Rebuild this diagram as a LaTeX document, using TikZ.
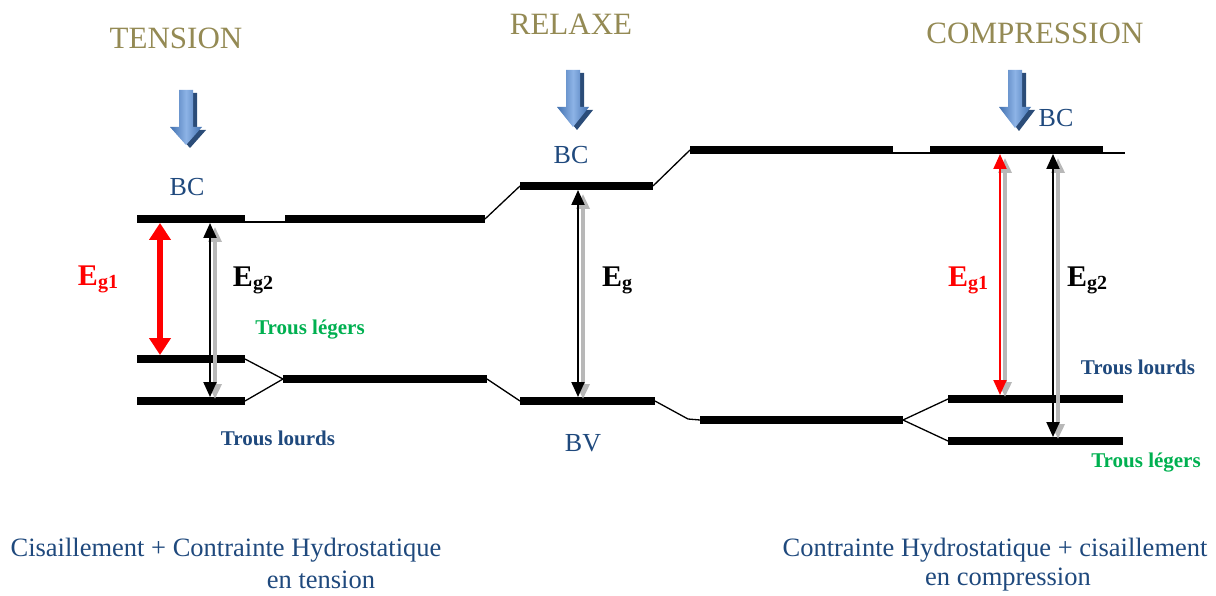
\documentclass[tikz,border=0pt]{standalone}
\usepackage{fontspec}
\setmainfont{Liberation Serif}
\usetikzlibrary{arrows.meta}
\definecolor{olivet}{HTML}{948A54}
\definecolor{dblue}{HTML}{1F497D}
\definecolor{tgreen}{HTML}{00B050}
\definecolor{arrlight}{HTML}{8DB3E6}
\definecolor{arrdark}{HTML}{4271B0}
\definecolor{arrshadow}{HTML}{2B4C78}
\newcommand\myblockarrow[5]{% name, cx, top, headstart, tip
  \fill[arrshadow] (#2-7+4,#3+3) -- (#2+7+4,#3+3) -- (#2+7+4,#4+3) -- (#2+16+4,#4+3) -- (#2+4,#5+3) -- (#2-16+4,#4+3) -- (#2-7+4,#4+3) -- cycle;
  \shade[left color=arrdark, right color=arrdark, middle color=arrlight] (#2-7,#3) -- (#2+7,#3) -- (#2+7,#4) -- (#2+16,#4) -- (#2,#5) -- (#2-16,#4) -- (#2-7,#4) -- cycle;
  \coordinate (#1) at (#2,#5);}
\newcommand\myeg[3]{{\fontsize{30}{32}\selectfont\bfseries #1}{\fontsize{20}{22}\selectfont\bfseries\raisebox{-3pt}{#2}}}
\begin{document}
\begin{tikzpicture}[x=1pt,y=-1pt,
  bar/.style={line width=8pt},
  link/.style={line width=1.3pt},
  titlelab/.style={text=olivet, font=\fontsize{31}{36}\selectfont, inner sep=0pt},
  bandlab/.style={text=dblue, font=\fontsize{26}{30}\selectfont, inner sep=0pt},
  botlab/.style={text=dblue, font=\fontsize{26.5}{30}\selectfont, inner sep=0pt},
  lourds/.style={text=dblue, font=\fontsize{21}{24}\selectfont\bfseries, inner sep=0pt},
  legers/.style={text=tgreen, font=\fontsize{21}{24}\selectfont\bfseries, inner sep=0pt},
  eglab/.style={inner sep=0pt},
  redbig/.style={red, line width=6pt, {Triangle[width=21pt,length=17pt]}-{Triangle[width=21pt,length=17pt]}},
  redthin/.style={red, line width=2pt, {Triangle[width=13pt,length=15pt]}-{Triangle[width=13pt,length=15pt]}},
  blackarr/.style={black, line width=2pt, {Triangle[width=13pt,length=15pt]}-{Triangle[width=13pt,length=15pt]}},
  shadowarr/.style={black!28, line width=3.5pt, {Triangle[width=13pt,length=15pt]}-{Triangle[width=13pt,length=15pt]}},
]
\useasboundingbox (0,0) rectangle (1216,596);

% ---------- titles ----------
\node[titlelab] (ttension) at (176,38) {TENSION};
\node[titlelab] (trelaxe) at (571,24) {RELAXE};
\node[titlelab] (tcomp) at (1035,33) {COMPRESSION};

% ---------- block arrows ----------
\myblockarrow{ba1}{186}{90}{127}{145}
\myblockarrow{ba2}{573}{70}{107}{127}
\myblockarrow{ba3}{1015}{70}{107}{128}

% ---------- coordinates of bands ----------
\coordinate (t1a) at (137,219); \coordinate (t1b) at (245,219);
\coordinate (t2a) at (285,219); \coordinate (t2b) at (485,219);
\coordinate (tla) at (137,359); \coordinate (tlb) at (245,359);
\coordinate (tha) at (137,401); \coordinate (thb) at (245,401);
\coordinate (tma) at (283,379); \coordinate (tmb) at (487,379);
\coordinate (rca) at (520,186); \coordinate (rcb) at (653,186);
\coordinate (rva) at (520,401); \coordinate (rvb) at (655,401);
\coordinate (c1a) at (690,150); \coordinate (c1b) at (893,150);
\coordinate (c2a) at (930,150); \coordinate (c2b) at (1103,150);
\coordinate (cma) at (700,420); \coordinate (cmb) at (903,420);
\coordinate (cha) at (948,399); \coordinate (chb) at (1123,399);
\coordinate (cla) at (948,441); \coordinate (clb) at (1123,441);
\coordinate (k1) at (688,419);

% ---------- thin links ----------
\draw[link] (137,222) -- (285,222);
\draw[link] (690,153) -- (1125,153);
\draw[link] (t2b) -- (rca);
\draw[link] (rcb) -- (c1a);
\draw[link] (tlb) -- (tma);
\draw[link] (thb) -- (tma);
\draw[link] (tmb) -- (rva);
\draw[link] (rvb) -- (k1) -- (cma);
\draw[link] (cmb) -- (cha);
\draw[link] (cmb) -- (cla);

% ---------- bands ----------
\foreach \a/\b in {t1a/t1b,t2a/t2b,tla/tlb,tha/thb,tma/tmb,rca/rcb,rva/rvb,c1a/c1b,c2a/c2b,cma/cmb,cha/chb,cla/clb}
  \draw[bar] (\a) -- (\b);

% ---------- gap arrows ----------
\coordinate (e1t) at (160,223); \coordinate (e1b) at (160,355);
\coordinate (e2t) at (210,223); \coordinate (e2b) at (210,397);
\coordinate (e3t) at (578,190); \coordinate (e3b) at (578,397);
\coordinate (e4t) at (1000,154); \coordinate (e4b) at (1000,395);
\coordinate (e5t) at (1053,154); \coordinate (e5b) at (1053,437);
\draw[shadowarr] ([shift={(5,4)}]e2t) -- ([shift={(5,2)}]e2b);
\draw[shadowarr] ([shift={(5,4)}]e3t) -- ([shift={(5,2)}]e3b);
\draw[shadowarr] ([shift={(5,4)}]e4t) -- ([shift={(5,2)}]e4b);
\draw[shadowarr] ([shift={(5,4)}]e5t) -- ([shift={(5,2)}]e5b);
\draw[redbig] (e1t) -- (e1b);
\draw[blackarr] (e2t) -- (e2b);
\draw[blackarr] (e3t) -- (e3b);
\draw[redthin] (e4t) -- (e4b);
\draw[blackarr] (e5t) -- (e5b);

% ---------- band labels ----------
\node[bandlab] (bc1) at (187,187) {BC};
\node[bandlab] (bc2) at (571,155) {BC};
\node[bandlab] (bc3) at (1056,118) {BC};
\node[bandlab] (bv) at (583,443) {BV};

% ---------- gap labels ----------
\node[eglab, text=red] (lg1) at (98,279) {\myeg{E}{g1}{}};
\node[eglab] (lg2) at (253,280) {\myeg{E}{g2}{}};
\node[eglab] (lg3) at (617,280) {\myeg{E}{g}{}};
\node[eglab, text=red] (lg4) at (968,280) {\myeg{E}{g1}{}};
\node[eglab] (lg5) at (1087,280) {\myeg{E}{g2}{}};

% ---------- holes labels ----------
\node[legers] (tl1) at (310,330) {Trous légers};
\node[lourds] (th1) at (278,438) {Trous lourds};
\node[lourds] (th2) at (1138,367) {Trous lourds};
\node[legers] (tl2) at (1146,463) {Trous légers};

% ---------- bottom captions ----------
\node[botlab] (cap1) at (226,550) {Cisaillement + Contrainte Hydrostatique};
\node[botlab] (cap2) at (321,580) {en tension};
\node[botlab] (cap3) at (995,550) {Contrainte Hydrostatique + cisaillement};
\node[botlab] (cap4) at (1008,580) {en compression};
\end{tikzpicture}
\end{document}
